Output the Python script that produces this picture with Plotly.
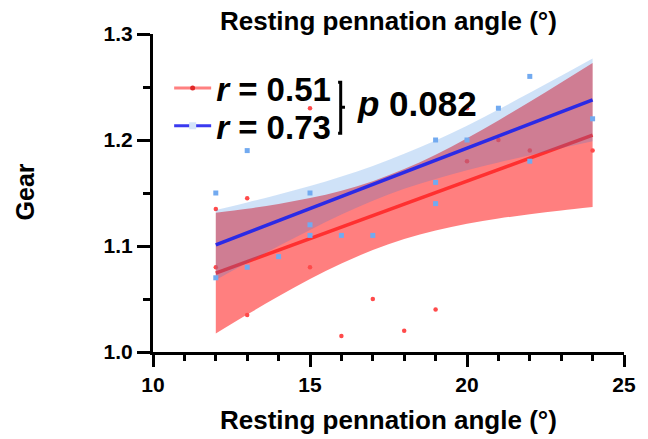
import plotly.graph_objects as go

# ---- data ----
red_x = [12, 12, 13, 13, 15, 15, 16, 17, 18, 19, 20, 20, 21, 22, 24]
red_y = [1.135, 1.08, 1.145, 1.035, 1.08, 1.23, 1.015, 1.05, 1.02, 1.04, 1.23, 1.18, 1.20, 1.19, 1.19]

blue_x = [12, 12, 13, 13, 14, 15, 15, 15, 16, 17, 18, 19, 19, 19, 20, 21, 22, 22, 24]
blue_y = [1.15, 1.07, 1.08, 1.19, 1.09, 1.15, 1.12, 1.11, 1.11, 1.11, 1.24, 1.16, 1.14, 1.20, 1.20, 1.23, 1.26, 1.18, 1.22]

band_x = [12, 13, 14, 15, 16, 17, 18, 19, 20, 21, 22, 23, 24]
red_fit = [1.0744, 1.0853, 1.0961, 1.1070, 1.1178, 1.1287, 1.1396, 1.1504, 1.1613, 1.1722, 1.1830, 1.1939, 1.2047]
red_upper = [1.1314, 1.1352, 1.1397, 1.1452, 1.1521, 1.1612, 1.1726, 1.1862, 1.2017, 1.2185, 1.2360, 1.2542, 1.2726]
red_lower = [1.0174, 1.0353, 1.0525, 1.0688, 1.0835, 1.0962, 1.1066, 1.1146, 1.1209, 1.1259, 1.1300, 1.1336, 1.1368]
blue_fit = [1.1010, 1.1124, 1.1238, 1.1352, 1.1466, 1.1580, 1.1694, 1.1808, 1.1922, 1.2036, 1.2150, 1.2264, 1.2378]
blue_upper = [1.1340, 1.1410, 1.1485, 1.1565, 1.1655, 1.1755, 1.1870, 1.1995, 1.2135, 1.2287, 1.2445, 1.2605, 1.2768]
blue_lower = [1.0680, 1.0841, 1.0999, 1.1152, 1.1296, 1.1427, 1.1539, 1.1633, 1.1714, 1.1788, 1.1857, 1.1923, 1.1988]

x_ticks = [10, 15, 20, 25]
y_ticks = [1.0, 1.1, 1.2, 1.3]
red_label = "<i>r</i> = 0.51"
blue_label = "<i>r</i> = 0.73"
p_label = "<i>p</i> 0.082"
axis_title = "Resting pennation angle (°)"
y_title = "Gear"

FONT = "Arial, Liberation Sans, Helvetica, sans-serif"

RED_BAND = "rgba(255,0,0,0.5)"
RED_LINE = "#ff3030"
RED_PT = "#ff4a4a"
BLUE_BAND = "rgba(26,117,222,0.21)"
BLUE_LINE = "#2a2ae6"
BLUE_PT = "#72aaf0"

fig = go.Figure()

# red group
fig.add_trace(go.Scatter(x=band_x, y=red_upper, mode="lines", line=dict(width=0, shape="spline"),
                         showlegend=False, hoverinfo="skip"))
fig.add_trace(go.Scatter(x=band_x, y=red_lower, mode="lines", line=dict(width=0, shape="spline"),
                         fill="tonexty", fillcolor=RED_BAND, showlegend=False, hoverinfo="skip"))
fig.add_trace(go.Scatter(x=band_x, y=red_fit, mode="lines", line=dict(color=RED_LINE, width=3.5),
                         showlegend=False))
fig.add_trace(go.Scatter(x=red_x, y=red_y, mode="markers",
                         marker=dict(color=RED_PT, size=4.5, symbol="circle"), showlegend=False))

# blue group
fig.add_trace(go.Scatter(x=band_x, y=blue_upper, mode="lines", line=dict(width=0, shape="spline"),
                         showlegend=False, hoverinfo="skip"))
fig.add_trace(go.Scatter(x=band_x, y=blue_lower, mode="lines", line=dict(width=0, shape="spline"),
                         fill="tonexty", fillcolor=BLUE_BAND, showlegend=False, hoverinfo="skip"))
fig.add_trace(go.Scatter(x=band_x, y=blue_fit, mode="lines", line=dict(color=BLUE_LINE, width=3.5),
                         showlegend=False))
fig.add_trace(go.Scatter(x=blue_x, y=blue_y, mode="markers",
                         marker=dict(color=BLUE_PT, size=5, symbol="square"), showlegend=False))

# legend entries
fig.add_trace(go.Scatter(x=[None], y=[None], mode="lines+markers", name=red_label,
                         line=dict(color="#ff8080", width=3),
                         marker=dict(color="#e02828", size=5, symbol="circle"),
                         legend="legend"))
fig.add_trace(go.Scatter(x=[None], y=[None], mode="lines+markers", name=blue_label,
                         line=dict(color="#3a3af0", width=3),
                         marker=dict(color="#d4e4fa", size=7, symbol="square"),
                         legend="legend2"))

leg_common = dict(font=dict(family=FONT, size=33, color="black", weight="bold"),
                  bgcolor="rgba(0,0,0,0)", borderwidth=0, xanchor="left", yanchor="middle",
                  itemwidth=37, tracegroupgap=0)
fig.update_layout(
    legend=dict(x=0.0343, y=0.830, **leg_common),
    legend2=dict(x=0.0343, y=0.711, **leg_common),
)

# bracket and p-value
fig.add_shape(type="path", xref="paper", yref="paper",
              path="M 0.393 0.848 L 0.3985 0.848 L 0.3985 0.7695 L 0.4076 0.7695 M 0.3985 0.7695 L 0.3985 0.688 L 0.393 0.688",
              line=dict(color="black", width=3))
fig.add_annotation(x=0.4286, y=0.783, xref="paper", yref="paper", xanchor="left", yanchor="middle",
                   text=p_label, showarrow=False,
                   font=dict(family=FONT, size=35, color="black", weight="bold"))

# titles
fig.add_annotation(x=0.5, y=1.041, xref="paper", yref="paper", xanchor="center", yanchor="middle",
                   text=axis_title, showarrow=False,
                   font=dict(family=FONT, size=26, color="black", weight="bold"))
fig.add_annotation(x=0.5, y=-0.2138, xref="paper", yref="paper", xanchor="center", yanchor="middle",
                   text=axis_title, showarrow=False,
                   font=dict(family=FONT, size=26, color="black", weight="bold"))
fig.add_annotation(x=-0.271, y=0.503, xref="paper", yref="paper", xanchor="center", yanchor="middle",
                   text=y_title, showarrow=False, textangle=-90,
                   font=dict(family=FONT, size=25, color="black", weight="bold"))

tickfont = dict(family=FONT, size=21, color="black", weight="bold")
fig.update_xaxes(range=[10, 25], tickmode="array", tickvals=x_ticks, ticktext=[str(v) for v in x_ticks],
                 showline=True, linecolor="black", linewidth=3, ticks="outside", ticklen=12,
                 tickwidth=3, tickcolor="black", tickfont=tickfont, showgrid=False, zeroline=False,
                 minor=dict(dtick=1, tick0=10, ticks="outside", ticklen=6, tickwidth=3, tickcolor="black",
                            showgrid=False))
fig.update_yaxes(range=[1.0, 1.3], tickmode="array", tickvals=y_ticks, ticktext=[f"{v:.1f}" for v in y_ticks],
                 showline=True, linecolor="black", linewidth=3, ticks="outside", ticklen=13,
                 tickwidth=3, tickcolor="black", tickfont=tickfont, showgrid=False, zeroline=False,
                 minor=dict(dtick=0.05, tick0=1.0, ticks="outside", ticklen=7, tickwidth=3, tickcolor="black",
                            showgrid=False))

fig.update_layout(width=648, height=439, margin=dict(l=153, r=19, t=34, b=87),
                  paper_bgcolor="white", plot_bgcolor="white")

fig.write_html("out.html", config={"displayModeBar": False},
               post_script="document.body.style.margin='0px';")
